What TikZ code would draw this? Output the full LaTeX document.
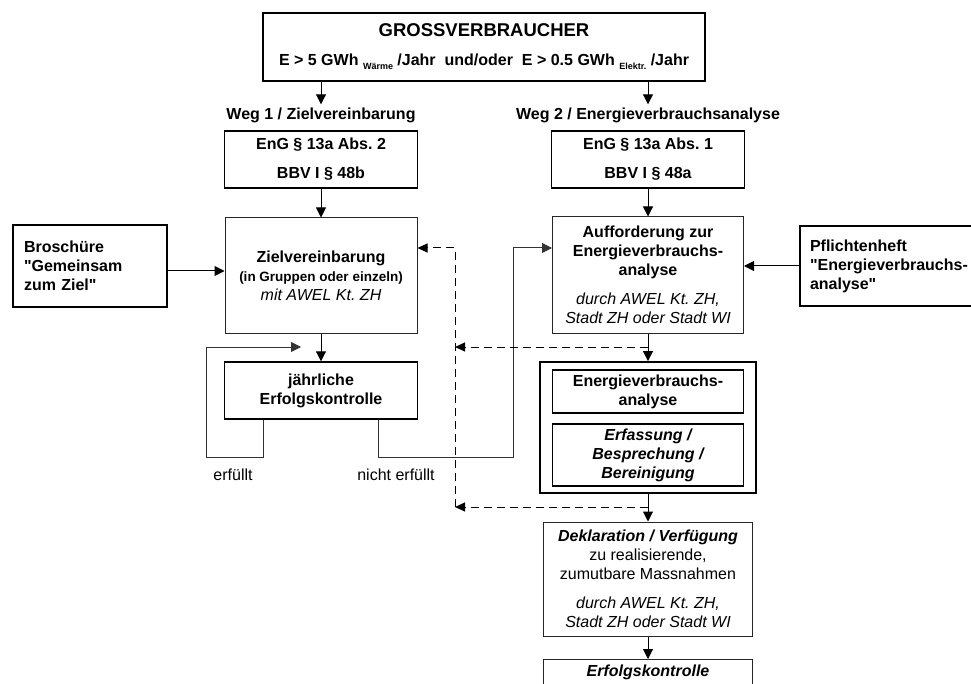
\documentclass[tikz,border=0pt]{standalone}
\usepackage{fontspec}
\setmainfont{Liberation Sans}[Ligatures=TeXOff]
\usetikzlibrary{arrows.meta}

\newcommand{\subtxt}[1]{\raisebox{-4pt}{\fontsize{9}{10}\selectfont #1}}
\frenchspacing

\begin{document}
\begin{tikzpicture}[x=1pt, y=-1pt,
	font=\fontsize{16}{19}\selectfont\bfseries,
	box/.style={draw=black!85, line width=1pt, align=center, inner sep=2pt},
	midbox/.style={box, draw=black, line width=1.4pt},
	thickbox/.style={box, draw=black, line width=1.8pt},
	plain/.style={font=\fontsize{16}{19}\selectfont\mdseries},
	arr/.style={line width=1pt, -{Triangle[length=10pt,width=10pt]}},
	link/.style={arr, draw=black!80},
	dlink/.style={line width=1pt, dash pattern=on 8pt off 5pt, -{Triangle[length=10pt,width=9pt]}}]
	\clip (0,0) rectangle (971,684);
	\fill [white] (0,0) rectangle (971,684);

	\node [thickbox, minimum width=442, minimum height=68] (top) at (484,47)
		{{\fontsize{18.5}{22}\selectfont GROSSVERBRAUCHER}\\[10pt]
		 E > 5 GWh \subtxt{Wärme} /Jahr\ \ und/oder\ \ E > 0.5 GWh \subtxt{Elektr.} /Jahr};

	\node [inner sep=3pt] (weg1) at (321,115) {Weg 1 / Zielvereinbarung};
	\node [inner sep=3pt] (weg2) at (648,115) {Weg 2 / Energieverbrauchsanalyse};

	\node [thickbox, minimum width=193, minimum height=57] (enga) at (321,159.5) {EnG § 13a Abs. 2\\[10pt]BBV I § 48b};
	\node [thickbox, minimum width=193, minimum height=57] (engb) at (648,159.5) {EnG § 13a Abs. 1\\[10pt]BBV I § 48a};

	\node [thickbox, align=left, text width=132, inner xsep=11pt, minimum height=82] (brosch) at (90,266)
		{Broschüre\\"Gemeinsam\\zum Ziel"};
	\node [box, minimum width=192, minimum height=115] (ziel) at (321,275.5)
		{Zielvereinbarung\\{\fontsize{13.5}{16}\selectfont (in Gruppen oder einzeln)}\\{\mdseries\itshape mit AWEL Kt. ZH}};

	\node [box, minimum width=191, minimum height=116] (auff) at (648,275)
		{Aufforderung zur\\Energieverbrauchs-\\analyse\\[10pt]{\mdseries\itshape durch AWEL Kt. ZH,}\\{\mdseries\itshape Stadt ZH oder Stadt WI}};
	\node [thickbox, align=left, text width=165, inner xsep=10pt, minimum height=80] (pflicht) at (892.5,266)
		{Pflichtenheft\\"Energieverbrauchs-\\analyse"};

	\node [midbox, minimum width=193, minimum height=57] (jahr) at (321,390.5) {jährliche\\Erfolgskontrolle};

	\node [thickbox, minimum width=216, minimum height=131] (eva) at (648,427.5) {};
	\node [midbox, minimum width=191, minimum height=43] (eva1) at (648,391.5) {Energieverbrauchs-\\analyse};
	\node [midbox, minimum width=191, minimum height=62] (eva2) at (648,455) {\itshape Erfassung /\\{\itshape Besprechung /}\\{\itshape Bereinigung}};

	\node [box, minimum width=209, minimum height=114] (dekl) at (648,579)
		{{\itshape Deklaration / Verfügung}\\{\mdseries zu realisierende,}\\{\mdseries zumutbare Massnahmen}\\[10pt]{\mdseries\itshape durch AWEL Kt. ZH,}\\{\mdseries\itshape Stadt ZH oder Stadt WI}};
	\node [box, anchor=north, minimum width=209, inner ysep=5pt] (erfolg) at (648,659) {{\itshape Erfolgskontrolle}\\[14pt]\mbox{}};

	\node [plain] (lbok) at (233,475) {erfüllt};
	\node [plain] (lbnok) at (396,475) {nicht erfüllt};

	\coordinate (okA) at (206,347);
	\coordinate (okB) at (301,347);
	\coordinate (nkA) at (513,248);
	\coordinate (da) at (455,507);
	\coordinate (db) at (455,248);
	\coordinate (dc) at (455,347);

	\draw [arr] (top.south -| weg1) -- (weg1);
	\draw [arr] (top.south -| weg2) -- (weg2);
	\draw [arr] (enga.south) -- (ziel.north);
	\draw [arr] (engb.south) -- (auff.north);
	\draw [arr] ([yshift=-5pt]brosch.east) -- ([yshift=-5pt]brosch.east -| ziel.west);
	\draw [arr] (pflicht.west) -- (pflicht.west -| auff.east);
	\draw [arr] (ziel.south) -- (jahr.north);
	\draw [arr] (auff.south) -- (eva.north);
	\draw [arr] (eva.south) -- (dekl.north);
	\draw [arr] (dekl.south) -- (erfolg.north);

	\draw [link] ([xshift=-58pt]jahr.south) -- ++(0,38) -| (okA) -- (okB);
	\draw [link] ([xshift=57pt]jahr.south) -- ++(0,38) -| (nkA) -- (nkA -| auff.west);

	\draw [dlink] (da) -- (db) -- (db -| ziel.east);
	\draw [dlink] (dc -| auff.south) -- (dc);
	\draw [dlink] (da -| dekl.north) -- (da);
\end{tikzpicture}
\end{document}
